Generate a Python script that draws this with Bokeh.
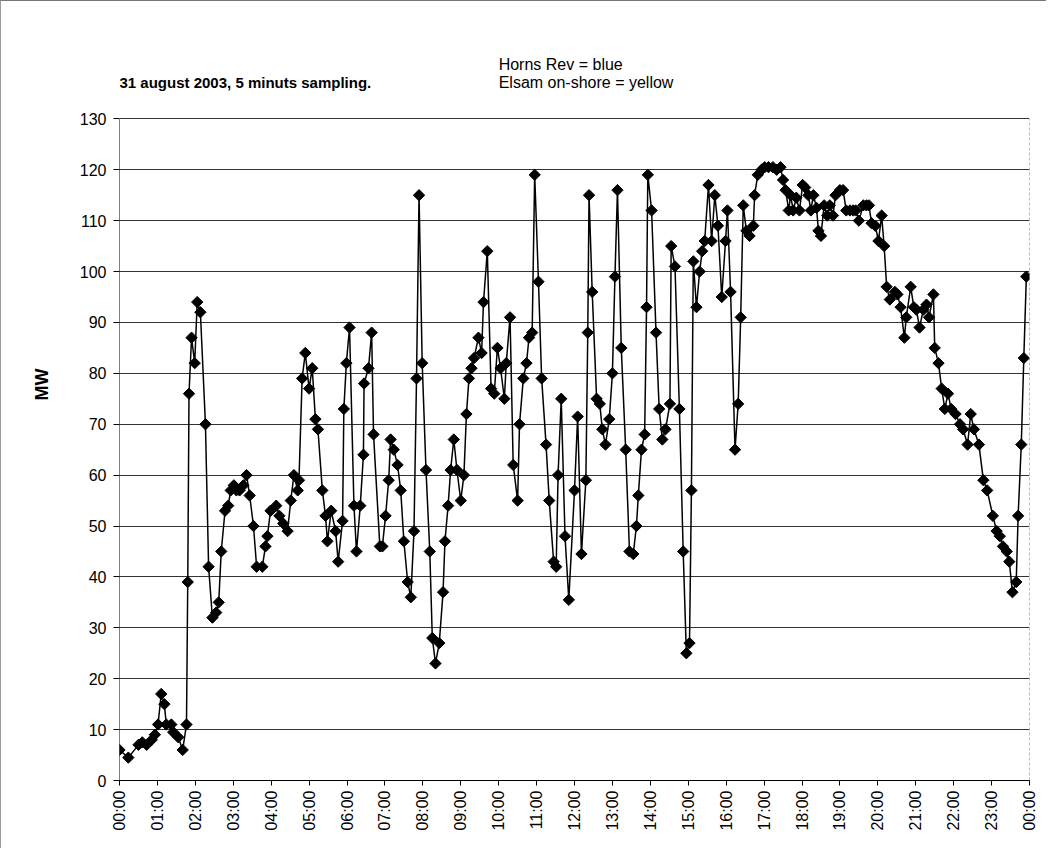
import math
from bokeh.plotting import figure
from bokeh.models import FixedTicker, ColumnDataSource, Title
from bokeh.core.properties import value
from bokeh.embed import file_html
from bokeh.resources import INLINE

# sample time in minutes after midnight
minutes = [
    0, 14, 30, 36, 43, 51, 56, 61, 66, 71,
    74, 82, 85, 93, 100, 106, 108, 110, 114, 119,
    123, 128, 136, 141, 147, 153, 157, 161, 167, 172,
    176, 181, 185, 190, 196, 201, 206, 212, 217, 226,
    231, 234, 239, 248, 253, 259, 266, 271, 276, 282,
    284, 289, 294, 300, 305, 310, 314, 321, 326, 329,
    335, 342, 346, 353, 355, 359, 364, 371, 375, 381,
    386, 387, 394, 399, 402, 412, 416, 421, 426, 429,
    434, 440, 445, 450, 456, 461, 466, 470, 474, 479,
    485, 491, 495, 500, 506, 512, 515, 520, 524, 529,
    534, 540, 545, 549, 553, 557, 561, 568, 573, 576,
    582, 588, 593, 598, 603, 609, 612, 618, 623, 630,
    633, 639, 644, 648, 653, 657, 663, 668, 675, 680,
    687, 691, 694, 699, 705, 711, 720, 725, 731, 738,
    741, 743, 748, 755, 760, 764, 769, 775, 780, 784,
    788, 794, 801, 807, 813, 818, 821, 826, 831, 834,
    836, 842, 849, 854, 859, 864, 871, 873, 879, 886,
    892, 897, 902, 905, 908, 913, 918, 922, 926, 932,
    937, 942, 947, 953, 959, 962, 967, 974, 979, 983,
    987, 992, 997, 1003, 1005, 1010, 1016, 1021, 1027, 1034,
    1040, 1046, 1050, 1054, 1059, 1062, 1066, 1071, 1076, 1081,
    1085, 1090, 1094, 1098, 1103, 1106, 1110, 1115, 1120, 1124,
    1129, 1133, 1140, 1145, 1150, 1156, 1161, 1165, 1170, 1177,
    1182, 1186, 1190, 1196, 1201, 1206, 1210, 1214, 1219, 1227,
    1231, 1236, 1242, 1245, 1252, 1257, 1261, 1266, 1272, 1277,
    1281, 1288, 1290, 1296, 1301, 1306, 1311, 1316, 1323, 1330,
    1335, 1342, 1347, 1352, 1360, 1367, 1373, 1382, 1388, 1393,
    1398, 1404, 1408, 1413, 1419, 1422, 1427, 1431, 1435,
]

# Horns Rev output, MW
mw = [
    6, 4.5, 7, 7.5, 7, 8, 9, 11, 17, 15,
    11, 11, 9.5, 8.5, 6, 11, 39, 76, 87, 82,
    94, 92, 70, 42, 32, 33, 35, 45, 53, 54,
    57, 58, 57, 57, 58, 60, 56, 50, 42, 42,
    46, 48, 53, 54, 52, 50.5, 49, 55, 60, 57,
    59, 79, 84, 77, 81, 71, 69, 57, 52, 47,
    53, 49, 43, 51, 73, 82, 89, 54, 45, 54,
    64, 78, 81, 88, 68, 46, 46, 52, 59, 67,
    65, 62, 57, 47, 39, 36, 49, 79, 115, 82,
    61, 45, 28, 23, 27, 37, 47, 54, 61, 67,
    61, 55, 60, 72, 79, 81, 83, 87, 84, 94,
    104, 77, 76, 85, 81, 75, 82, 91, 62, 55,
    70, 79, 82, 87, 88, 119, 98, 79, 66, 55,
    43, 42, 60, 75, 48, 35.5, 57, 71.5, 44.5, 59,
    88, 115, 96, 75, 74, 69, 66, 71, 80, 99,
    116, 85, 65, 45, 44.5, 50, 56, 65, 68, 93,
    119, 112, 88, 73, 67, 69, 74, 105, 101, 73,
    45, 25, 27, 57, 102, 93, 100, 104, 106, 117,
    106, 115, 109, 95, 106, 112, 96, 65, 74, 91,
    113, 108, 107, 109, 115, 119, 120, 120.5, 120.5, 120.5,
    120, 120.5, 118, 116, 112, 115, 112, 114.5, 112, 117,
    116.5, 115, 112, 115, 112.5, 108, 107, 113, 111, 113,
    111, 115, 116, 116, 112, 112, 112, 112, 110, 113,
    113, 113, 109.5, 109, 106, 111, 105, 97, 94.5, 96,
    95.5, 93, 87, 91, 97, 93, 92.5, 89, 92.5, 93.5,
    91, 95.5, 85, 82, 77, 73, 76, 73, 72, 70,
    69, 66, 72, 69, 66, 59, 57, 52, 49, 48,
    46, 45, 43, 37, 39, 52, 66, 83, 99,
]

hour_ticks = list(range(0, 1441, 60))
hour_labels = ["%02d:00" % (h % 24) for h in range(25)]
mw_ticks = list(range(0, 131, 10))

title_text = "31 august 2003, 5 minuts sampling."
legend_lines = ["Horns Rev = blue", "Elsam on-shore = yellow"]
y_title = "MW"

FONT = "Liberation Sans"
Y_TOP = 130      # top of the value scale
Y_SPACE = 145    # headroom holding the header texts

p = figure(width=1046, height=848, x_range=(0, 1440), y_range=(0, Y_SPACE),
           output_backend="svg", toolbar_location=None,
           min_border_left=118, min_border_right=18,
           min_border_top=41, min_border_bottom=69)
p.styles = {"border-top": "1px solid #777", "border-left": "1px solid #999"}
p.background_fill_color = "white"
p.border_fill_color = "white"
p.outline_line_color = None

# plot-area left axis line and dashed right border (only up to the value scale top)
p.segment(x0=[0], y0=[0], x1=[0], y1=[Y_TOP], line_color="black", line_width=1)
p.segment(x0=[1440], y0=[0], x1=[1440], y1=[Y_TOP], line_color="#777777",
          line_width=1, line_dash="3 2")

src = ColumnDataSource(dict(t=minutes, v=mw))
p.line("t", "v", source=src, line_color="black", line_width=1.5)
p.scatter("t", "v", source=src, marker="square", size=8, angle=math.pi / 4,
          fill_color="black", line_color="black")

# axes
p.xaxis.ticker = FixedTicker(ticks=hour_ticks)
p.xaxis.major_label_overrides = {t: l for t, l in zip(hour_ticks, hour_labels)}
p.xaxis.major_label_orientation = math.pi / 2
p.xaxis.major_tick_out = 5
p.xaxis.major_tick_in = 0
p.xaxis.minor_tick_line_color = None
p.xaxis.major_label_standoff = 5
p.xaxis.axis_line_color = "black"
p.yaxis.ticker = FixedTicker(ticks=mw_ticks)
p.yaxis.major_tick_out = 6
p.yaxis.major_tick_in = 0
p.yaxis.minor_tick_line_color = None
p.yaxis.major_label_standoff = 7
p.yaxis.axis_line_color = None
for ax in (p.xaxis, p.yaxis):
    ax.major_tick_line_color = "black"
    ax.major_label_text_font = FONT
    ax.major_label_text_font_size = "16px"
    ax.major_label_text_color = "black"

# vertical "MW" title placed left of the axis, centred near the 68 MW level
p.add_layout(Title(text=y_title, align="right", offset=326, standoff=50,
                   text_font=FONT, text_font_size="18px", text_font_style="bold",
                   text_color="black"), "left")

p.xgrid.grid_line_color = None
p.ygrid.grid_line_color = "#333333"
p.ygrid.grid_line_width = 1

# header texts in the headroom above the 130 MW line
p.text(x=[0], y=[137.1], text=[title_text], text_font=value(FONT),
       text_font_size="15px", text_font_style="bold", text_baseline="middle",
       text_align="left", text_color="black")
p.text(x=[600, 600], y=[140.7, 137.1], text=legend_lines, text_font=value(FONT),
       text_font_size="16px", text_baseline="middle", text_align="left",
       text_color="black")

open("out.html", "w").write(file_html(p, INLINE))
